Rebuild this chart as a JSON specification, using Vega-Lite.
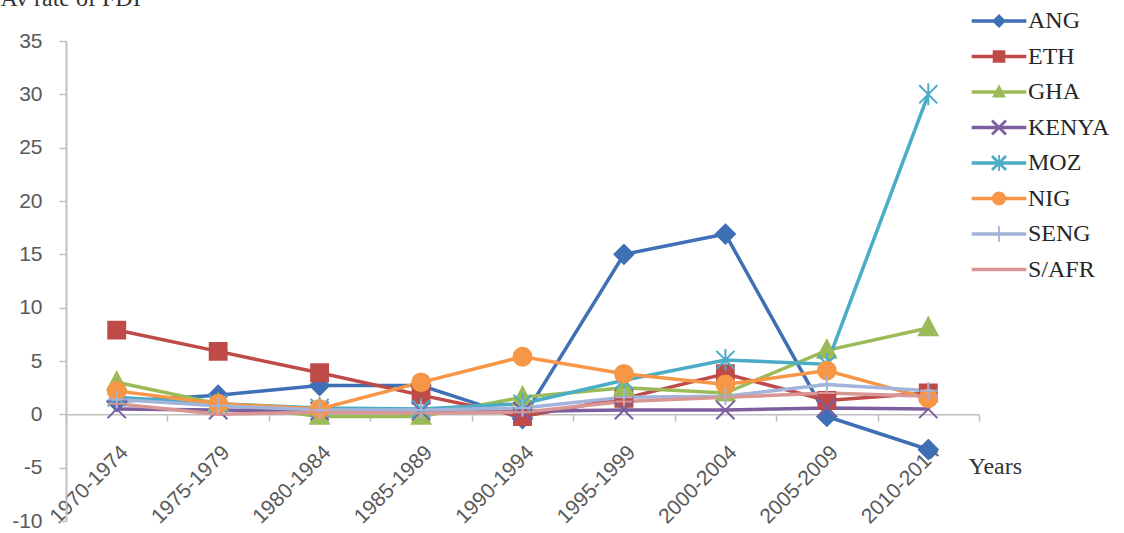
{
  "$schema": "https://vega.github.io/schema/vega-lite/v6.json",
  "width": 913,
  "height": 480,
  "autosize": {"type": "none"},
  "padding": {"left": 66, "top": 41, "right": 145, "bottom": 12},
  "background": "white",
  "config": {
    "view": {"stroke": null},
    "font": "Liberation Sans",
    "legend": {
      "title": null,
      "orient": "none",
      "legendX": 921,
      "legendY": -32,
      "padding": 0,
      "symbolSize": 196,
      "symbolStrokeWidth": 0,
      "symbolOpacity": 1,
      "labelFont": "Liberation Serif",
      "labelFontSize": 24,
      "labelColor": "#262626",
      "labelOffset": 17,
      "rowPadding": 11.5
    }
  },
  "data": {
    "values": [
      {"period": "1970-1974", "series": "ANG", "value": 1.2},
      {"period": "1975-1979", "series": "ANG", "value": 1.8},
      {"period": "1980-1984", "series": "ANG", "value": 2.7},
      {"period": "1985-1989", "series": "ANG", "value": 2.7},
      {"period": "1990-1994", "series": "ANG", "value": -0.4},
      {"period": "1995-1999", "series": "ANG", "value": 15.0},
      {"period": "2000-2004", "series": "ANG", "value": 16.9},
      {"period": "2005-2009", "series": "ANG", "value": -0.2},
      {"period": "2010-2014", "series": "ANG", "value": -3.3},
      {"period": "1970-1974", "series": "ETH", "value": 7.9},
      {"period": "1975-1979", "series": "ETH", "value": 5.9},
      {"period": "1980-1984", "series": "ETH", "value": 3.9},
      {"period": "1985-1989", "series": "ETH", "value": 1.8},
      {"period": "1990-1994", "series": "ETH", "value": -0.2},
      {"period": "1995-1999", "series": "ETH", "value": 1.5},
      {"period": "2000-2004", "series": "ETH", "value": 3.8},
      {"period": "2005-2009", "series": "ETH", "value": 1.3},
      {"period": "2010-2014", "series": "ETH", "value": 2.0},
      {"period": "1970-1974", "series": "GHA", "value": 3.0},
      {"period": "1975-1979", "series": "GHA", "value": 1.0},
      {"period": "1980-1984", "series": "GHA", "value": -0.2},
      {"period": "1985-1989", "series": "GHA", "value": -0.2},
      {"period": "1990-1994", "series": "GHA", "value": 1.6},
      {"period": "1995-1999", "series": "GHA", "value": 2.5},
      {"period": "2000-2004", "series": "GHA", "value": 2.0},
      {"period": "2005-2009", "series": "GHA", "value": 6.0},
      {"period": "2010-2014", "series": "GHA", "value": 8.1},
      {"period": "1970-1974", "series": "KENYA", "value": 0.5},
      {"period": "1975-1979", "series": "KENYA", "value": 0.4},
      {"period": "1980-1984", "series": "KENYA", "value": 0.3},
      {"period": "1985-1989", "series": "KENYA", "value": 0.3},
      {"period": "1990-1994", "series": "KENYA", "value": 0.3},
      {"period": "1995-1999", "series": "KENYA", "value": 0.4},
      {"period": "2000-2004", "series": "KENYA", "value": 0.4},
      {"period": "2005-2009", "series": "KENYA", "value": 0.6},
      {"period": "2010-2014", "series": "KENYA", "value": 0.5},
      {"period": "1970-1974", "series": "MOZ", "value": 1.6},
      {"period": "1975-1979", "series": "MOZ", "value": 1.0},
      {"period": "1980-1984", "series": "MOZ", "value": 0.6},
      {"period": "1985-1989", "series": "MOZ", "value": 0.5},
      {"period": "1990-1994", "series": "MOZ", "value": 1.0},
      {"period": "1995-1999", "series": "MOZ", "value": 3.2},
      {"period": "2000-2004", "series": "MOZ", "value": 5.1},
      {"period": "2005-2009", "series": "MOZ", "value": 4.7},
      {"period": "2010-2014", "series": "MOZ", "value": 30.0},
      {"period": "1970-1974", "series": "NIG", "value": 2.2},
      {"period": "1975-1979", "series": "NIG", "value": 1.0},
      {"period": "1980-1984", "series": "NIG", "value": 0.5},
      {"period": "1985-1989", "series": "NIG", "value": 3.0},
      {"period": "1990-1994", "series": "NIG", "value": 5.4},
      {"period": "1995-1999", "series": "NIG", "value": 3.8},
      {"period": "2000-2004", "series": "NIG", "value": 2.8},
      {"period": "2005-2009", "series": "NIG", "value": 4.1},
      {"period": "2010-2014", "series": "NIG", "value": 1.5},
      {"period": "1970-1974", "series": "SENG", "value": 1.4},
      {"period": "1975-1979", "series": "SENG", "value": 0.8},
      {"period": "1980-1984", "series": "SENG", "value": 0.4},
      {"period": "1985-1989", "series": "SENG", "value": 0.4},
      {"period": "1990-1994", "series": "SENG", "value": 0.6},
      {"period": "1995-1999", "series": "SENG", "value": 1.6},
      {"period": "2000-2004", "series": "SENG", "value": 1.7},
      {"period": "2005-2009", "series": "SENG", "value": 2.8},
      {"period": "2010-2014", "series": "SENG", "value": 2.2},
      {"period": "1970-1974", "series": "S/AFR", "value": 1.0},
      {"period": "1975-1979", "series": "S/AFR", "value": 0.0},
      {"period": "1980-1984", "series": "S/AFR", "value": 0.2},
      {"period": "1985-1989", "series": "S/AFR", "value": 0.1},
      {"period": "1990-1994", "series": "S/AFR", "value": 0.2},
      {"period": "1995-1999", "series": "S/AFR", "value": 1.2},
      {"period": "2000-2004", "series": "S/AFR", "value": 1.6},
      {"period": "2005-2009", "series": "S/AFR", "value": 2.0},
      {"period": "2010-2014", "series": "S/AFR", "value": 1.7}
    ]
  },
  "encoding": {
    "x": {
      "field": "period",
      "type": "ordinal",
      "scale": {"type": "band", "paddingInner": 0, "paddingOuter": 0},
      "axis": {
        "title": "Years",
        "labelAngle": -45,
        "labelAlign": "right",
        "labelBaseline": "top",
        "labelFont": "Liberation Sans",
        "labelFontSize": 21,
        "labelColor": "#595959",
        "labelPadding": 20,
        "labelOverlap": false,
        "tickBand": "extent",
        "tickSize": 7,
        "tickColor": "#BFBFBF",
        "tickWidth": 1.5,
        "domainColor": "#BFBFBF",
        "domainWidth": 1.5,
        "offset": -106.7,
        "grid": false,
        "titleFont": "Liberation Serif",
        "titleFontSize": 24,
        "titleFontWeight": "normal",
        "titleColor": "#333333",
        "titleX": 902,
        "titleY": 52,
        "titleAlign": "left",
        "titleBaseline": "middle"
      }
    },
    "y": {
      "field": "value",
      "type": "quantitative",
      "scale": {"domain": [-10, 35], "nice": false, "zero": false},
      "axis": {
        "values": [-10, -5, 0, 5, 10, 15, 20, 25, 30, 35],
        "labelExpr": "replace(datum.label, '−', '-')",
        "grid": false,
        "title": "Av rate of FDI",
        "titleAngle": 0,
        "titleX": -66,
        "titleY": -36,
        "titleAlign": "left",
        "titleBaseline": "alphabetic",
        "titleFont": "Liberation Serif",
        "titleFontSize": 24,
        "titleFontWeight": "normal",
        "titleColor": "#333333",
        "labelFont": "Liberation Sans",
        "labelFontSize": 21,
        "labelColor": "#595959",
        "labelPadding": 17,
        "tickSize": 7,
        "tickColor": "#BFBFBF",
        "tickWidth": 1.5,
        "domainColor": "#BFBFBF",
        "domainWidth": 2
      }
    }
  },
  "layer": [
    {
      "mark": {"type": "line", "strokeWidth": 3.5},
      "encoding": {
        "color": {
          "field": "series",
          "type": "nominal",
          "scale": {
            "domain": ["ANG", "ETH", "GHA", "KENYA", "MOZ", "NIG", "SENG", "S/AFR"],
            "range": ["#3F6FB5", "#BE4B48", "#9BBB59", "#7D5FA0", "#4BACC6", "#F79646", "#A3B4DA", "#D99694"]
          },
          "legend": null
        }
      }
    },
    {
      "mark": {"type": "point", "filled": true, "strokeWidth": 2, "opacity": 1},
      "encoding": {
        "color": {
          "field": "series",
          "type": "nominal",
          "scale": {
            "domain": ["ANG", "ETH", "GHA", "KENYA", "MOZ", "NIG", "SENG", "S/AFR"],
            "range": ["#3F6FB5", "#BE4B48", "#9BBB59", "#7D5FA0", "#4BACC6", "#F79646", "#A3B4DA", "#D99694"]
          },
          "legend": null
        },
        "stroke": {
          "field": "series",
          "type": "nominal",
          "scale": {
            "domain": ["ANG", "ETH", "GHA", "KENYA", "MOZ", "NIG", "SENG", "S/AFR"],
            "range": ["#3F6FB5", "#BE4B48", "#9BBB59", "#7D5FA0", "#4BACC6", "#F79646", "#A3B4DA", "#D99694"]
          },
          "legend": null
        },
        "shape": {
          "field": "series",
          "type": "nominal",
          "scale": {
            "domain": ["ANG", "ETH", "GHA", "KENYA", "MOZ", "NIG", "SENG", "S/AFR"],
            "range": [
              "M0,-1L1,0L0,1L-1,0Z",
              "M-0.9,-0.9L0.9,-0.9L0.9,0.9L-0.9,0.9Z",
              "M0,-1.1L1,0.8L-1,0.8Z",
              "M-1,-1L1,1M-1,1L1,-1",
              "M-1,-1L1,1M-1,1L1,-1M0,-1.2L0,1.2",
              "circle",
              "M0,-1L0,1M-1,0L1,0",
              "M-1,0L1,0"
            ]
          },
          "legend": null
        },
        "size": {
          "field": "series",
          "type": "nominal",
          "scale": {
            "domain": ["ANG", "ETH", "GHA", "KENYA", "MOZ", "NIG", "SENG", "S/AFR"],
            "range": [360, 300, 300, 230, 260, 300, 200, 80]
          },
          "legend": null
        }
      }
    },
    {
      "transform": [{"filter": "false"}],
      "mark": {"type": "point", "filled": true, "opacity": 1},
      "encoding": {
        "color": {
          "field": "series",
          "type": "nominal",
          "scale": {
            "domain": ["ANG", "ETH", "GHA", "KENYA", "MOZ", "NIG", "SENG", "S/AFR"],
            "range": ["#3F6FB5", "#BE4B48", "#9BBB59", "#7D5FA0", "#4BACC6", "#F79646", "#A3B4DA", "#D99694"]
          }
        },
        "shape": {
          "field": "series",
          "type": "nominal",
          "scale": {
            "domain": ["ANG", "ETH", "GHA", "KENYA", "MOZ", "NIG", "SENG", "S/AFR"],
            "range": [
              "M-3.9,-0.25L3.9,-0.25L3.9,0.25L-3.9,0.25ZM0,-1L1,0L0,1L-1,0Z",
              "M-3.9,-0.25L3.9,-0.25L3.9,0.25L-3.9,0.25ZM-0.9,-0.9L0.9,-0.9L0.9,0.9L-0.9,0.9Z",
              "M-3.9,-0.25L3.9,-0.25L3.9,0.25L-3.9,0.25ZM0,-1.1L1,0.8L-1,0.8Z",
              "M-3.9,-0.25L3.9,-0.25L3.9,0.25L-3.9,0.25ZM-0.86,-1.14L1.14,0.86L0.86,1.14L-1.14,-0.86ZM-1.14,0.86L0.86,-1.14L1.14,-0.86L-0.86,1.14Z",
              "M-3.9,-0.25L3.9,-0.25L3.9,0.25L-3.9,0.25ZM-0.86,-1.14L1.14,0.86L0.86,1.14L-1.14,-0.86ZM-1.14,0.86L0.86,-1.14L1.14,-0.86L-0.86,1.14ZM-0.13,-1.15L0.13,-1.15L0.13,1.15L-0.13,1.15Z",
              "M-3.9,-0.25L3.9,-0.25L3.9,0.25L-3.9,0.25ZM-1,0A1,1 0 1,1 1,0A1,1 0 1,1 -1,0Z",
              "M-3.9,-0.25L3.9,-0.25L3.9,0.25L-3.9,0.25ZM-0.13,-1.1L0.13,-1.1L0.13,1.1L-0.13,1.1Z",
              "M-3.9,-0.25L3.9,-0.25L3.9,0.25L-3.9,0.25Z"
            ]
          }
        }
      }
    }
  ],
  "resolve": {"scale": {"shape": "independent", "color": "independent", "stroke": "independent"}}
}
